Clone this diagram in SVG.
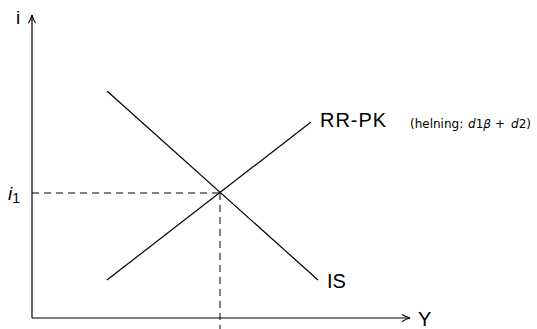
<svg xmlns="http://www.w3.org/2000/svg" width="537" height="329" viewBox="0 0 537 329">
<style>
.ax{stroke:#000;stroke-width:1.2;fill:none}
.ln{stroke:#000;stroke-width:1.2;fill:none}
.dash{stroke:#000;stroke-width:1;stroke-dasharray:7 5;fill:none}
text{font-family:"Liberation Sans","DejaVu Sans",sans-serif;fill:#000}
.lbl{font-size:20px}
.sm{font-size:12px;font-family:"DejaVu Sans",sans-serif}
.it{font-style:italic}
</style>
<defs>
<marker id="arr" viewBox="0 0 10 10" refX="9" refY="5" markerWidth="10" markerHeight="10" markerUnits="userSpaceOnUse" orient="auto">
<path d="M1,1.5 Q5,4 9,5 Q5,6 1,8.5" fill="none" stroke="#000" stroke-width="1.1"/>
</marker>
</defs>
<g id="connectors">
<line class="ax" x1="32" y1="318" x2="32" y2="15" marker-end="url(#arr)"/>
<line class="ax" x1="32" y1="318" x2="410" y2="318" marker-end="url(#arr)"/>
<line class="dash" x1="32" y1="193" x2="220" y2="193"/>
<line class="dash" x1="220" y1="193" x2="220" y2="329"/>
</g>
<g id="IS">
<line class="ln" x1="107" y1="91" x2="318" y2="280"/>
<text class="lbl" x="327" y="288">IS</text>
</g>
<g id="RRPK">
<line class="ln" x1="107" y1="280" x2="311" y2="122"/>
<text class="lbl" x="320" y="127" textLength="66">RR-PK</text>
<text class="sm" y="128"><tspan x="410">(helning:</tspan><tspan x="468" class="it">d</tspan>1<tspan class="it">β</tspan><tspan x="495">+</tspan><tspan x="511" class="it">d</tspan>2)</text>
</g>
<g id="axis-labels">
<text x="16" y="24" style="font-size:19px">i</text>
<text x="418" y="326" class="lbl">Y</text>
<text x="8" y="200" class="it" style="font-size:19px">i<tspan style="font-style:normal;font-size:14px" dy="3">1</tspan></text>
</g>
</svg>
